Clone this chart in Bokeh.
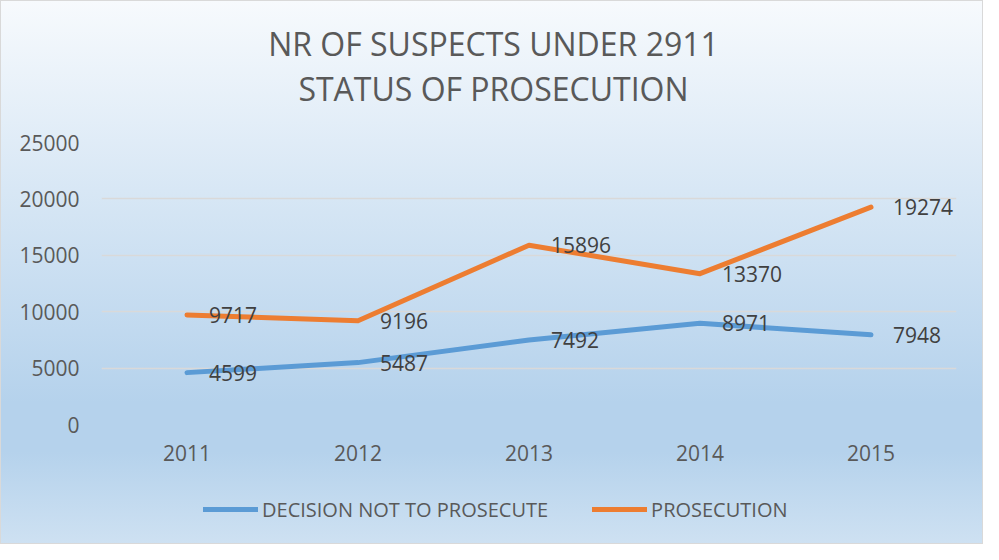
from bokeh.plotting import figure
from bokeh.layouts import column
from bokeh.models import (ColumnDataSource, Range1d, FactorRange, FixedTicker, Legend,
                          LegendItem, LabelSet, Label, NumeralTickFormatter)
from bokeh.core.properties import value
from bokeh.embed import file_html
from bokeh.resources import INLINE

years = ["2011", "2012", "2013", "2014", "2015"]
not_prosecuted = [4599, 5487, 7492, 8971, 7948]
prosecuted = [9717, 9196, 15896, 13370, 19274]
y_ticks = [0, 5000, 10000, 15000, 20000, 25000]
title_lines = ["NR OF SUSPECTS UNDER 2911", "STATUS OF PROSECUTION"]
series_names = ["DECISION NOT TO PROSECUTE", "PROSECUTION"]

FONT = "Open Sans"
BLUE = "#5b9bd5"
ORANGE = "#ed7d31"
W = 983
H_TOP, H_MAIN, H_BOT = 110, 366, 68
LEFT, RIGHT = 101, 27          # frame borders shared (and aligned) by the three strips


def bare(fig):
    fig.background_fill_color = None
    fig.border_fill_color = None
    fig.outline_line_color = None
    return fig


src = ColumnDataSource(dict(
    year=years,
    np=not_prosecuted,
    pr=prosecuted,
    np_text=[str(v) for v in not_prosecuted],
    pr_text=[str(v) for v in prosecuted],
))

# ---- title strip ----
p_top = bare(figure(width=W, height=H_TOP, x_range=Range1d(LEFT, W - RIGHT),
                    y_range=Range1d(0, H_TOP), output_backend="svg", toolbar_location=None,
                    x_axis_type=None, y_axis_type=None, min_border=0,
                    min_border_left=LEFT, min_border_right=RIGHT))
p_top.grid.visible = False
for txt, ypos in ((title_lines[0], H_TOP - 43), (title_lines[1], H_TOP - 88)):
    p_top.add_layout(Label(x=493, y=ypos, text=txt, text_align="center", text_baseline="middle",
                           text_font=FONT, text_font_size="32px", text_color="#595959"))

# ---- main chart ----
p = bare(figure(width=W, height=H_MAIN, x_range=FactorRange(*years), y_range=Range1d(0, 25000),
                output_backend="svg", toolbar_location=None, title=None,
                min_border_left=LEFT, min_border_right=RIGHT, min_border_top=32,
                min_border_bottom=52))

p.xgrid.visible = False
p.ygrid.grid_line_color = "#d9d9d9"
p.ygrid.grid_line_width = 1.5

p.yaxis.ticker = FixedTicker(ticks=y_ticks)
p.yaxis.formatter = NumeralTickFormatter(format="0")
for ax in (p.xaxis[0], p.yaxis[0]):
    ax.axis_line_color = None
    ax.major_tick_line_color = None
    ax.minor_tick_line_color = None
    ax.major_tick_in = 0
    ax.major_tick_out = 0
    ax.major_label_text_font = FONT
    ax.major_label_text_font_size = "21px"
    ax.major_label_text_color = "#595959"
p.yaxis.major_label_standoff = 22
p.xaxis.major_label_standoff = 20

line_kw = dict(line_width=5, line_cap="round", line_join="round")
p.line(x="year", y="np", source=src, line_color=BLUE, **line_kw)
p.line(x="year", y="pr", source=src, line_color=ORANGE, **line_kw)

for col, txt in (("np", "np_text"), ("pr", "pr_text")):
    p.add_layout(LabelSet(x="year", y=col, text=txt, source=src, x_offset=22,
                          text_baseline="middle", text_align="left",
                          text_font=value(FONT), text_font_size="21px", text_color="#404040"))

# ---- legend strip (series drawn out of view; only their legend glyphs show) ----
p_bot = bare(figure(width=W, height=H_BOT, x_range=FactorRange(*years), y_range=Range1d(-2, -1),
                    output_backend="svg", toolbar_location=None, x_axis_type=None,
                    y_axis_type=None, min_border=0,
                    min_border_left=LEFT, min_border_right=RIGHT))
p_bot.grid.visible = False
lb = p_bot.line(x="year", y="np", source=src, line_color=BLUE, **line_kw)
lo = p_bot.line(x="year", y="pr", source=src, line_color=ORANGE, **line_kw)
legend = Legend(items=[LegendItem(label=series_names[0], renderers=[lb]),
                       LegendItem(label=series_names[1], renderers=[lo])],
                location=(203 - LEFT, 20), orientation="horizontal",
                background_fill_alpha=0, border_line_color=None,
                padding=0, margin=0, spacing=44, glyph_width=55, glyph_height=30,
                label_height=30, label_standoff=4,
                label_text_font=FONT, label_text_font_size="20px", label_text_color="#595959")
p_bot.add_layout(legend)

layout = column(p_top, p, p_bot, spacing=0)
layout.styles = {
    "background": "linear-gradient(180deg, #f7fafd 0%, #b5d2ec 74%, #b5d2ec 83%, #cee1f2 100%)",
    "box-shadow": "inset 0 0 0 1px #d9d9d9",
}

open("out.html", "w").write(file_html(layout, INLINE))
